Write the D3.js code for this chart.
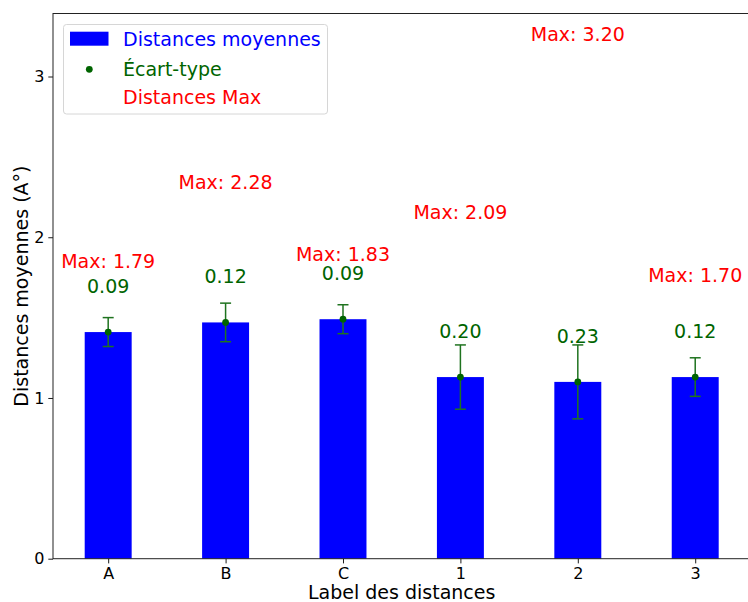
<!DOCTYPE html>
<html>
<head>
<meta charset="utf-8">
<script src="https://cdn.jsdelivr.net/npm/d3@7"></script>
<style>
  html, body { margin: 0; padding: 0; background: #fff; }
  svg { display: block; font-family: "DejaVu Sans", sans-serif; }
</style>
</head>
<body>
<svg id="chart" width="748" height="602"></svg>
<script>
const categories = ["A", "B", "C", "1", "2", "3"];
const meanValues = [1.41, 1.47, 1.49, 1.13, 1.10, 1.13];
const stdValues = [0.09, 0.12, 0.09, 0.20, 0.23, 0.12];
const maxValues = [1.79, 2.28, 1.83, 2.09, 3.20, 1.70];
const yTicks = [0, 1, 2, 3];

(function () {
const svg = d3.select("#chart");
const fs = 19, tickFs = 16;
const pLeft = 53, pRight = 750.4, pTop = 13.5, pBottom = 558.7;

const x = d3.scaleLinear().domain([-0.47, categories.length - 1 + 0.47]).range([pLeft, pRight]);
const y = d3.scaleLinear().domain([0, d3.max(maxValues) * 1.06]).range([pBottom, pTop]);
const barW = x(0.4) - x(0);

const data = categories.map((c, i) => ({c, i, mean: meanValues[i], std: stdValues[i], max: maxValues[i]}));

// bars
svg.append("g").selectAll("rect").data(data).join("rect")
  .attr("x", d => x(d.i) - barW / 2)
  .attr("y", d => y(d.mean))
  .attr("width", barW)
  .attr("height", d => y(0) - y(d.mean))
  .attr("fill", "#0000ff");

// error bars
const eg = svg.append("g").attr("stroke", "#1f731f").attr("stroke-width", 1.5);
data.forEach(d => {
  const cx = x(d.i);
  eg.append("line").attr("x1", cx).attr("x2", cx).attr("y1", y(d.mean - d.std)).attr("y2", y(d.mean + d.std));
  eg.append("line").attr("x1", cx - 5.5).attr("x2", cx + 5.5).attr("y1", y(d.mean - d.std)).attr("y2", y(d.mean - d.std));
  eg.append("line").attr("x1", cx - 5.5).attr("x2", cx + 5.5).attr("y1", y(d.mean + d.std)).attr("y2", y(d.mean + d.std));
});
svg.append("g").selectAll("circle").data(data).join("circle")
  .attr("cx", d => x(d.i)).attr("cy", d => y(d.mean)).attr("r", 3.4)
  .attr("fill", "#006400");

// std labels
svg.append("g").selectAll("text").data(data).join("text")
  .attr("x", d => x(d.i)).attr("y", d => y(d.mean + 0.243))
  .attr("text-anchor", "middle").attr("font-size", fs).attr("fill", "#006400")
  .text(d => d.std.toFixed(2));

// max labels
svg.append("g").selectAll("text").data(data).join("text")
  .attr("x", d => x(d.i)).attr("y", d => y(d.max) - 3.3)
  .attr("text-anchor", "middle").attr("font-size", fs).attr("fill", "#ff0000")
  .text(d => "Max: " + d.max.toFixed(2));

// axes
const xAxis = d3.axisBottom(x).tickValues(categories.map((c, i) => i))
  .tickFormat(i => categories[i]).tickSize(4.7).tickPadding(4);
const gx = svg.append("g").attr("transform", `translate(0,${pBottom})`).call(xAxis);
const yAxis = d3.axisLeft(y).tickValues(yTicks).tickFormat(d3.format("d")).tickSize(4.7).tickPadding(4);
const gy = svg.append("g").attr("transform", `translate(${pLeft},0)`).call(yAxis);
[gx, gy].forEach(g => {
  g.select(".domain").remove();
  g.selectAll(".tick line").attr("stroke", "#000").attr("stroke-width", 0.9);
  g.selectAll(".tick text").attr("font-size", tickFs).attr("fill", "#000")
    .attr("font-family", "DejaVu Sans, sans-serif");
});

// spines
svg.append("rect").attr("x", pLeft).attr("y", pTop).attr("width", pRight - pLeft).attr("height", pBottom - pTop)
  .attr("fill", "none").attr("stroke", "#222").attr("stroke-width", 1);

// axis labels
svg.append("text").attr("x", (pLeft + pRight) / 2).attr("y", 599.3)
  .attr("text-anchor", "middle").attr("font-size", fs).attr("fill", "#000")
  .text("Label des distances");
svg.append("text").attr("transform", `translate(28,${(pTop + pBottom) / 2}) rotate(-90)`)
  .attr("text-anchor", "middle").attr("font-size", fs).attr("fill", "#000")
  .text("Distances moyennes (A°)");

// legend
const lg = svg.append("g");
lg.append("rect").attr("x", 63.5).attr("y", 24.5).attr("width", 264).attr("height", 89.5)
  .attr("rx", 3).attr("fill", "#fff").attr("fill-opacity", 0.8)
  .attr("stroke", "#d6d6d6").attr("stroke-width", 1);
lg.append("rect").attr("x", 70).attr("y", 31.7).attr("width", 38.5).attr("height", 14).attr("fill", "#0000ff");
lg.append("circle").attr("cx", 89.3).attr("cy", 69.3).attr("r", 3.4).attr("fill", "#006400");
const legItems = [["Distances moyennes", "#0000ff", 45.6], ["Écart-type", "#006400", 76], ["Distances Max", "#ff0000", 104]];
legItems.forEach(([t, c, yy]) => {
  lg.append("text").attr("x", 123).attr("y", yy).attr("font-size", fs).attr("fill", c).text(t);
});
})();
</script>
</body>
</html>
